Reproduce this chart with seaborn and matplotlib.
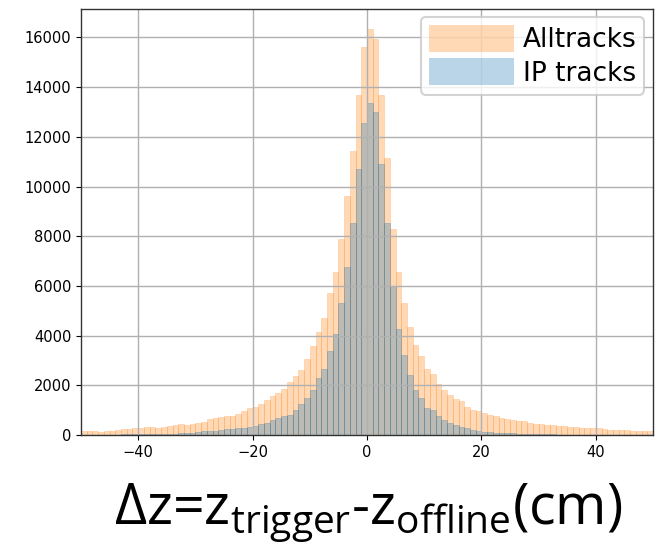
import numpy as np
import pandas as pd
import matplotlib
matplotlib.use("Agg")
import matplotlib.pyplot as plt
import seaborn as sns
from matplotlib.patches import Patch
from matplotlib.colors import to_rgba

# bin range (1 cm bins from -50 to 50)
bin_lo = -50
bin_hi = 50

# counts per bin, Alltracks, bins [-50,-49) ... [49,50)
all_tracks = [
    150, 150, 150, 140, 150, 165, 200, 225, 230, 280,
    285, 310, 305, 300, 305, 345, 415, 430, 415, 455,
    480, 540, 630, 675, 740, 770, 770, 850, 970, 1100,
    1110, 1250, 1390, 1550, 1690, 1850, 2130, 2360, 2620, 3050,
    3600, 4150, 4700, 5700, 6550, 7900, 9600, 11450, 13700, 15600,
    16330, 15950, 13700, 11150, 8300, 6550, 5320, 4360, 3620, 3180,
    2650, 2470, 2050, 1820, 1600, 1430, 1350, 1110, 1000, 960,
    900, 800, 745, 690, 640, 610, 580, 545, 480, 450,
    440, 410, 390, 370, 355, 340, 310, 295, 280, 270,
    265, 235, 220, 215, 210, 190, 175, 165, 160, 145,
]

# counts per bin, IP tracks
ip_tracks = [
    15, 15, 15, 15, 20, 20, 20, 25, 25, 30,
    30, 35, 40, 40, 45, 50, 60, 65, 75, 85,
    135, 150, 160, 180, 200, 230, 255, 270, 300, 340,
    370, 430, 500, 620, 690, 745, 810, 990, 1250, 1500,
    1800, 2280, 2650, 3380, 4050, 5300, 6750, 8540, 10700, 12550,
    13350, 13000, 10900, 8530, 6000, 4250, 3220, 2410, 1810, 1480,
    1100, 1000, 770, 610, 470, 405, 340, 270, 205, 175,
    140, 120, 100, 85, 75, 65, 55, 50, 40, 35,
    30, 25, 25, 20, 20, 18, 15, 15, 12, 12,
    10, 10, 10, 8, 8, 8, 6, 6, 5, 5,
]

series_labels = ["Alltracks", "IP tracks"]
x_ticks = [-40, -20, 0, 20, 40]
y_ticks = [0, 2000, 4000, 6000, 8000, 10000, 12000, 14000, 16000]

centers = np.arange(bin_lo, bin_hi) + 0.5
df = pd.DataFrame({"dz": centers, "all": all_tracks, "ip": ip_tracks})

plt.rcParams["font.family"] = ["DejaVu Sans"]
plt.rcParams["mathtext.fontset"] = "custom"
plt.rcParams["mathtext.rm"] = "Open Sans"

fig = plt.figure(figsize=(6.66, 5.55), dpi=100)
ax = fig.add_axes([0.1216, 0.2162, 0.8589, 0.7676])

c_all = "#ff7f0e"
c_ip = "#1f77b4"
alpha = 0.3

sns.histplot(data=df, x="dz", weights="all", binwidth=1, binrange=(bin_lo, bin_hi),
             ax=ax, facecolor=to_rgba(c_all, alpha), edgecolor=to_rgba(c_all, 0.25),
             linewidth=0.6)
sns.histplot(data=df, x="dz", weights="ip", binwidth=1, binrange=(bin_lo, bin_hi),
             ax=ax, facecolor=to_rgba(c_ip, alpha), edgecolor=to_rgba(c_ip, 0.3),
             linewidth=0.6)

ax.set_xlim(bin_lo, bin_hi)
ax.set_xticks(x_ticks)
ax.set_xticklabels([f"\u2212{abs(v)}" if v < 0 else str(v) for v in x_ticks])
ax.set_yticks(y_ticks)
ax.set_xlabel("")
ax.set_ylabel("")
ax.grid(True, color="#b0b0b0", linewidth=1.0)
ax.tick_params(labelsize=10.5, direction="out", length=3.5)
for s in ax.spines.values():
    s.set_color("#333333")
    s.set_linewidth(1.0)

handles = [Patch(facecolor=to_rgba(c_all, alpha), edgecolor="none"),
           Patch(facecolor=to_rgba(c_ip, alpha), edgecolor="none")]
leg = ax.legend(handles, series_labels, loc="upper right",
                bbox_to_anchor=(0.985, 0.982), borderaxespad=0,
                fontsize=19, handlelength=3.2, handleheight=1.2,
                handletextpad=0.35, labelspacing=0.2, borderpad=0.3,
                framealpha=0.8, edgecolor="#c8c8c8")
leg.get_frame().set_linewidth(1.5)

fig.text(0.553, 0.055,
         "Δz=z$_{\\mathrm{trigger}}$-z$_{\\mathrm{offline}}$(cm)",
         ha="center", va="baseline", fontsize=40,
         family=["Open Sans", "DejaVu Sans"])

fig.savefig("out.png", dpi=100)
